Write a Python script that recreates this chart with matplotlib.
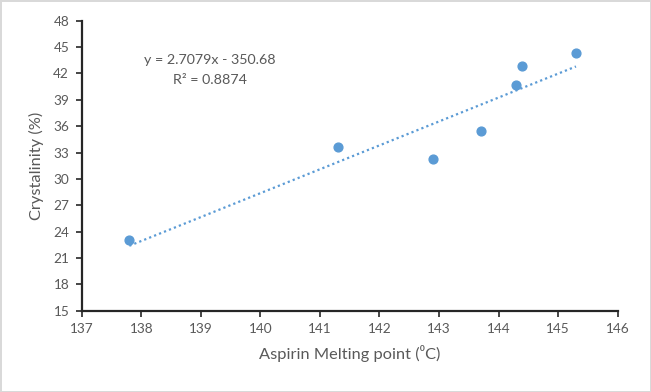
import numpy as np
import matplotlib
matplotlib.use("Agg")
import matplotlib.pyplot as plt

# data
melting_point = [137.8, 141.3, 142.9, 143.7, 144.3, 144.4, 145.3]
crystallinity = [23.0, 33.6, 32.3, 35.5, 40.7, 42.8, 44.3]
x_ticks = [137, 138, 139, 140, 141, 142, 143, 144, 145, 146]
y_ticks = [15, 18, 21, 24, 27, 30, 33, 36, 39, 42, 45, 48]

plt.rcParams['font.family'] = ['Lato', 'DejaVu Sans']
text_col = '#595959'
blue = '#5b9bd5'

fig = plt.figure(figsize=(6.51, 3.92), dpi=100)
fig.patch.set_edgecolor('#d9d9d9')
fig.patch.set_linewidth(2)
ax = fig.add_axes([0.1255, 0.2074, 0.8233, 0.7398])

ax.scatter(melting_point, crystallinity, s=40, color=blue, zorder=3)

# linear trendline over the data range
coef = np.polyfit(melting_point, crystallinity, 1)
xs = np.array([min(melting_point), max(melting_point)])
ax.plot(xs, np.polyval(coef, xs), color=blue, lw=1.6,
        linestyle=(0, (1, 1.4)), zorder=2)

ax.text(0.239, 0.864, 'y = 2.7079x - 350.68', transform=ax.transAxes,
        ha='center', va='center', fontsize=10.3, color=text_col)
ax.text(0.239, 0.795, 'R² = 0.8874', transform=ax.transAxes,
        ha='center', va='center', fontsize=10.3, color=text_col)

ax.set_xlim(137, 146)
ax.set_ylim(15, 48)
ax.set_xticks(x_ticks)
ax.set_yticks(y_ticks)
ax.tick_params(direction='out', length=4, width=1.2, colors='#262626',
               labelcolor=text_col, labelsize=9.8, pad=5)

for side in ['top', 'right']:
    ax.spines[side].set_visible(False)
for side in ['left', 'bottom']:
    ax.spines[side].set_linewidth(1.6)
    ax.spines[side].set_color('#262626')

ax.set_xlabel('Aspirin Melting point (⁰C)', fontsize=11.8, color=text_col, labelpad=7)
ax.set_ylabel('Crystalinity (%)', fontsize=11.8, color=text_col, labelpad=7)

fig.savefig('out.png', dpi=100)
